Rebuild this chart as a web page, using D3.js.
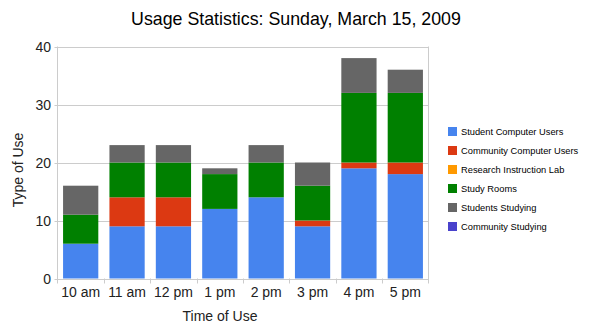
<!DOCTYPE html>
<html><head><meta charset="utf-8">
<script src="https://cdn.jsdelivr.net/npm/d3@7"></script>
<style>body{margin:0;background:#fff}svg{display:block;font-family:Arial,"Liberation Sans",sans-serif}</style>
</head><body><svg id="c" width="591" height="332"></svg>
<script>
const categories = ["10 am","11 am","12 pm","1 pm","2 pm","3 pm","4 pm","5 pm"];
const seriesNames = ["Student Computer Users","Community Computer Users","Research Instruction Lab","Study Rooms","Students Studying","Community Studying"];
const studentComputerUsers   = [6, 9, 9, 12, 14, 9, 19, 18];
const communityComputerUsers = [0, 5, 5, 0, 0, 1, 1, 2];
const researchInstructionLab = [0, 0, 0, 0, 0, 0, 0, 0];
const studyRooms             = [5, 6, 6, 6, 6, 6, 12, 12];
const studentsStudying       = [5, 3, 3, 1, 3, 4, 6, 4];
const communityStudying      = [0, 0, 0, 0, 0, 0, 0, 0];
const yTicks = [0, 10, 20, 30, 40];
const colors = ["#4684EE","#DC3912","#FF9900","#008000","#666666","#4942CC"];

const seriesValues = [studentComputerUsers, communityComputerUsers, researchInstructionLab, studyRooms, studentsStudying, communityStudying];
const rows = categories.map((c,i)=>{const r={cat:c}; seriesNames.forEach((s,j)=>r[s]=seriesValues[j][i]); return r;});
const stacked = d3.stack().keys(seriesNames)(rows);

const svg = d3.select("#c");
const L=57.5, R=428.5, T=46.5, B=278.5;
const x = d3.scaleBand().domain(categories).range([L,R]).paddingInner(0.24).paddingOuter(0.12);
const y = d3.scaleLinear().domain([0,40]).range([B,T]);

// gridlines
svg.append("g").selectAll("line").data(yTicks).join("line")
  .attr("x1",L-3).attr("x2",R).attr("y1",d=>Math.round(y(d))+0.5).attr("y2",d=>Math.round(y(d))+0.5)
  .attr("stroke","#cccccc").attr("stroke-width",1);
// frame
svg.append("line").attr("x1",L).attr("x2",L).attr("y1",T).attr("y2",B+5).attr("stroke","#cccccc");
svg.append("line").attr("x1",R).attr("x2",R).attr("y1",T).attr("y2",B+5).attr("stroke","#cccccc");
// x ticks between categories
svg.append("g").selectAll("line").data(d3.range(1,categories.length)).join("line")
  .attr("x1",d=>Math.round(L+d*(R-L)/categories.length)+0.5).attr("x2",d=>Math.round(L+d*(R-L)/categories.length)+0.5)
  .attr("y1",B).attr("y2",B+5).attr("stroke","#cccccc");

// bars
svg.append("g").selectAll("g").data(stacked).join("g").attr("fill",(d,i)=>colors[i])
  .selectAll("rect").data(d=>d).join("rect")
  .attr("x",d=>x(d.data.cat)).attr("width",x.bandwidth())
  .attr("y",d=>y(d[1])).attr("height",d=>y(d[0])-y(d[1]));

// y tick labels
svg.append("g").selectAll("text").data(yTicks).join("text")
  .attr("x",51).attr("y",d=>y(d)+5).attr("text-anchor","end").attr("font-size",14).attr("fill","#222")
  .text(d=>d);
// x tick labels
svg.append("g").selectAll("text").data(categories).join("text")
  .attr("x",d=>x(d)+x.bandwidth()/2).attr("y",297).attr("text-anchor","middle").attr("font-size",14).attr("fill","#222")
  .text(d=>d);

// title
svg.append("text").attr("x",296).attr("y",25).attr("text-anchor","middle").attr("font-size",17.8).attr("fill","#000")
  .text("Usage Statistics: Sunday, March 15, 2009");
// axis titles
svg.append("text").attr("x",220).attr("y",321).attr("text-anchor","middle").attr("font-size",14).attr("fill","#222").text("Time of Use");
svg.append("text").attr("transform","translate(23,170) rotate(-90)").attr("text-anchor","middle").attr("font-size",14).attr("fill","#222").text("Type of Use");

// legend
const lg = svg.append("g").selectAll("g").data(seriesNames).join("g")
  .attr("transform",(d,i)=>`translate(448,${127+i*19})`);
lg.append("rect").attr("width",9).attr("height",9).attr("fill",(d,i)=>colors[i]);
lg.append("text").attr("x",13).attr("y",8).attr("font-size",9.3).attr("fill","#000").text(d=>d);
</script></body></html>
